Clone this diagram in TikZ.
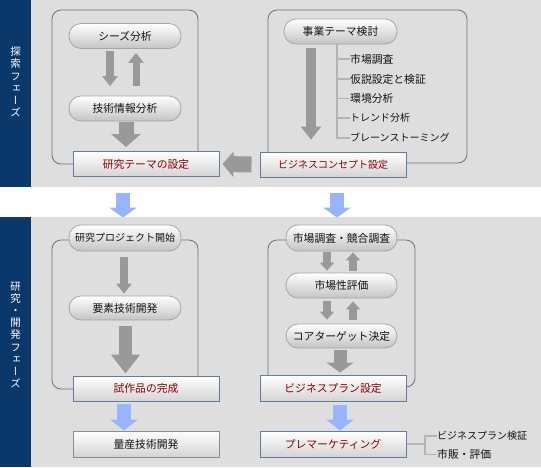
\documentclass[tikz,border=0pt]{standalone}
\usepackage{fontspec}
\setmainfont{Noto Sans CJK JP}
\newfontfamily\vfont[RawFeature={+vert}]{Noto Sans CJK JP}
\usetikzlibrary{arrows.meta,calc,shadings}
\definecolor{bggray}{HTML}{DEDEDE}
\definecolor{navy}{HTML}{0B386B}
\definecolor{pillborder}{HTML}{A6A6A6}
\definecolor{pillbottom}{HTML}{C4C4C4}
\definecolor{rectborder}{HTML}{5F7FA0}
\definecolor{rectbottom}{HTML}{D4D4D4}
\definecolor{darkred}{HTML}{8B0000}
\definecolor{textdark}{HTML}{111111}
\definecolor{framegray}{HTML}{707070}
\definecolor{arrowgray}{HTML}{999999}
\definecolor{arrowblue}{HTML}{99B4FF}
\definecolor{treegray}{HTML}{B4B4B4}
\begin{document}
\begin{tikzpicture}[x=1pt,y=-1pt,
  every node/.style={font=\fontsize{10.8}{13}\selectfont, inner sep=0pt, text=textdark},
  narrow/.style={font=\fontsize{10}{12}\selectfont},
  pill/.style={rounded corners=12pt, draw=pillborder, line width=0.8pt,
    top color=white, bottom color=pillbottom, minimum width=112pt, minimum height=25pt},
  rectbox/.style={rectangle, draw=rectborder, line width=1pt,
    top color=white, bottom color=rectbottom, minimum width=146pt, minimum height=25pt, text=darkred},
  plainbox/.style={rectbox, draw=framegray!80, text=textdark},
  frame/.style={draw=framegray, line width=0.8pt, rounded corners=9pt},
  garrow/.style n args={3}{draw=arrowgray, line width=#1, -{Triangle[width=#2 0 0, length=#3 0 0]}},
  barrow/.style n args={3}{draw=arrowblue, line width=#1, -{Triangle[width=#2 0 0, length=#3 0 0]}},
  tree/.style={draw=treegray, line width=1.5pt},
  bandtext/.style={font=\vfont\fontsize{10.5}{12.2}\selectfont, text=white, align=center}
]
\useasboundingbox (0,0) rectangle (541,467);
% backgrounds
\fill[bggray] (0,0) rectangle (541,187);
\fill[bggray] (0,217) rectangle (541,467);
\fill[navy] (0,0) rectangle (31,187);
\fill[navy] (0,217) rectangle (31,467);
\node[bandtext] (band1) at (15.5,82) {探\\索\\フ\\ェ\\ー\\ズ};
\node[bandtext] (band2) at (15.5,335) {研\\究\\・\\開\\発\\フ\\ェ\\ー\\ズ};

% frames
\draw[frame] (52,10) rectangle (198,164);
\draw[frame] (268,10) rectangle (467,163);
\draw[frame] (52,240) rectangle (198,389);
\draw[frame] (268,240) rectangle (415,387);

% top-left
\node[pill] (seeds) at (125,36) {シーズ分析};
\node[pill] (gijutsu) at (125,108.5) {技術情報分析};
\node[rectbox] (theme) at (146,164) {研究テーマの設定};

% top-right
\node[pill, minimum width=113pt] (jigyo) at (340.5,31.5) {事業テーマ検討};
\node[rectbox, narrow] (concept) at (333,164.5) {ビジネスコンセプト設定};
\node[anchor=west] (l1) at (350,59) {市場調査};
\node[anchor=west] (l2) at (350,79) {仮説設定と検証};
\node[anchor=west] (l3) at (350,98.5) {環境分析};
\node[anchor=west, narrow] (l4) at (350,118) {トレンド分析};
\node[anchor=west, narrow] (l5) at (350,138) {ブレーンストーミング};
\coordinate (tt) at ([xshift=-3.5pt]jigyo.south);
\draw[tree] (tt) |- (l5.west);
\foreach \i in {1,...,4} { \draw[tree] (l\i.west -| tt) -- (l\i.west); }

% bottom-left
\node[pill, minimum height=26pt, narrow] (proj) at (125,238) {研究プロジェクト開始};
\node[pill, minimum height=24pt] (yoso) at (125,308) {要素技術開発};
\node[rectbox] (shisaku) at (146,388.5) {試作品の完成};
\node[plainbox, minimum height=26pt] (ryosan) at (146,444) {量産技術開発};

% bottom-right
\node[pill, minimum width=111pt, minimum height=26pt] (shijo) at (341.5,238) {市場調査・競合調査};
\node[pill, minimum width=111pt] (shijosei) at (341.5,285.5) {市場性評価};
\node[pill, minimum width=111pt, minimum height=24pt] (core) at (341.5,336) {コアターゲット決定};
\node[rectbox, minimum height=26pt] (bizplan) at (333,388) {ビジネスプラン設定};
\node[rectbox, minimum height=26pt] (premkt) at (333,444) {プレマーケティング};
\node[anchor=west, narrow] (b1) at (437,436) {ビジネスプラン検証};
\node[anchor=west] (b2) at (437,454.5) {市販・評価};
\coordinate (bk) at (425,444);
\draw[tree] (premkt.east) -- (bk);
\draw[tree] (b1.west) -- (b1.west -| bk) -- (b2.west -| bk) -- (b2.west);

% gray arrows
\draw[garrow={8pt}{15pt}{10pt}] ($(seeds.south)+(-15,2)$) -- ($(gijutsu.north)+(-15,-9.5)$);
\draw[garrow={7pt}{15pt}{10pt}] ($(gijutsu.north)+(11,-9.5)$) -- ($(seeds.south)+(11,4)$);
\draw[garrow={15pt}{29pt}{13pt}] ($(gijutsu.south)+(1,1)$) -- ($(theme.north)+(-20,-4)$);
\draw[garrow={16pt}{25pt}{11pt}] ($(concept.west)+(-8,0)$) -- ($(theme.east)+(3,0)$);
\draw[garrow={10pt}{20pt}{13pt}] ($(jigyo.south)+(-29.5,4)$) -- ($(concept.north)+(-22,-12)$);
\draw[garrow={8pt}{15pt}{10pt}] ($(proj.south)+(-1,6)$) -- ($(yoso.north)+(-1,-2)$);
\draw[garrow={13pt}{28pt}{19pt}] ($(yoso.south)+(0.5,6)$) -- ($(shisaku.north)+(-20.5,-2)$);
\draw[garrow={8pt}{14pt}{8pt}] ($(shijo.south)+(-14.5,1)$) -- ($(shijosei.north)+(-14.5,-2)$);
\draw[garrow={8pt}{14pt}{8pt}] ($(shijosei.north)+(11.5,-2)$) -- ($(shijo.south)+(11.5,1)$);
\draw[garrow={8pt}{14pt}{8pt}] ($(shijosei.south)+(-14.5,3)$) -- ($(core.north)+(-14.5,-4)$);
\draw[garrow={8pt}{14pt}{8pt}] ($(core.north)+(11.5,-4)$) -- ($(shijosei.south)+(11.5,3)$);
\draw[garrow={13pt}{27pt}{10pt}] ($(core.south)+(-1.5,2)$) -- ($(bizplan.north)+(7,-2)$);

% blue arrows
\draw[barrow={14pt}{27pt}{10pt}] ($(theme.south)+(-23,16)$) -- ($(proj.north)+(-2,-7)$);
\draw[barrow={14pt}{27pt}{10pt}] ($(concept.south)+(4,15)$) -- ($(shijo.north)+(-4.5,-7)$);
\draw[barrow={14pt}{27pt}{11pt}] ($(shisaku.south)+(-22,2)$) -- ($(ryosan.north)+(-22,0)$);
\draw[barrow={14pt}{27pt}{11pt}] ($(bizplan.south)+(7,3)$) -- ($(premkt.north)+(7,0)$);
\end{tikzpicture}
\end{document}
